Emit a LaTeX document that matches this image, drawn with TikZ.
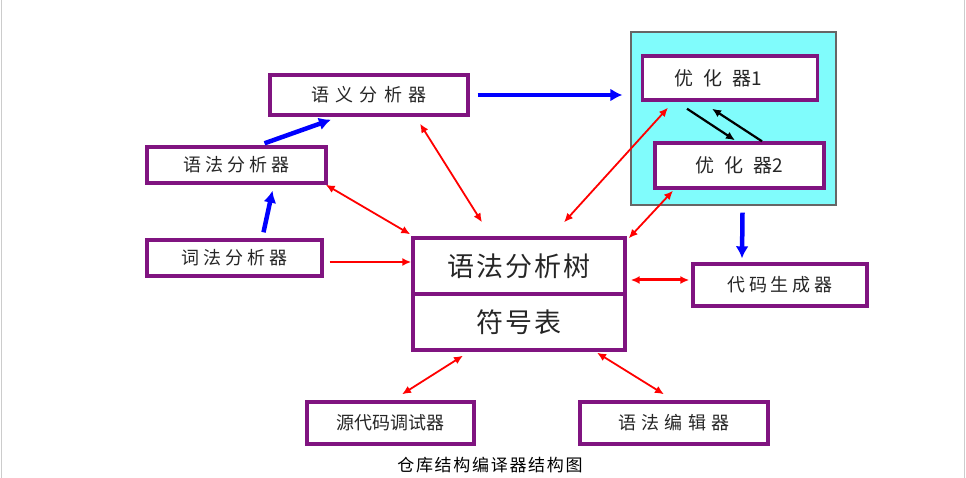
\documentclass[tikz,border=0pt]{standalone}
\usepackage{fontspec}
\newfontfamily\cjk{Noto Sans CJK SC}
\usetikzlibrary{arrows.meta}
\definecolor{boxpurple}{RGB}{128,20,128}
\definecolor{optcyan}{RGB}{128,252,252}
\newcommand{\boxfont}[2]{\cjk\fontsize{#1}{#1}\selectfont\addfontfeature{LetterSpace=#2}}
\tikzset{
  box/.style={draw=boxpurple,line width=3.4pt,fill=white,inner sep=0pt,
    font=\boxfont{18}{0},text=black!85},
  redarrow/.style={draw=red,line width=1.8pt,{Latex[length=9pt,width=8pt]}-{Latex[length=9pt,width=8pt]}},
  redsingle/.style={draw=red,line width=1.8pt,-{Latex[length=9pt,width=8pt]}},
  bluearrow/.style={draw=blue,line width=4.5pt,-{Latex[length=12pt,width=13pt]}},
  blackarrow/.style={draw=black,line width=2.2pt,-{Latex[length=9pt,width=8pt]}}
}
\begin{document}
\begin{tikzpicture}[x=1pt,y=-1pt]
\useasboundingbox (0,0) rectangle (966,478);
\draw [gray!40] (1,0) -- (1,478);
\draw [gray!40] (964,0) -- (964,478);
% optimiser area
\node (optarea) [draw=black!60,line width=1.2pt,fill=optcyan,minimum width=205pt,minimum height=173pt,inner sep=0pt] at (733.5,118.5) {};
\node (opt1) [box,minimum width=175pt,minimum height=44pt,font=\boxfont{19}{0}] at (730,78) {\hspace*{-24pt}优\hspace{10pt}化\hspace{10pt}器1};
\node (opt2) [box,minimum width=169pt,minimum height=45pt,font=\boxfont{19}{0}] at (739.5,165.5) {优\hspace{10pt}化\hspace{10pt}器2};
% analysers
\node (yuyi) [box,minimum width=198pt,minimum height=40pt,font=\boxfont{18}{35}] at (369,95) {语义分析器};
\node (yufa) [box,minimum width=179pt,minimum height=36pt,font=\boxfont{18}{22}] at (236.5,165) {语法分析器};
\node (cifa) [box,minimum width=175pt,minimum height=36pt,font=\boxfont{18}{22}] at (234.5,258) {词法分析器};
% central store
\node (tree) [box,minimum width=212pt,minimum height=56pt,font=\boxfont{27}{8}] at (519,266) {语法分析树};
\node (symtab) [box,minimum width=212pt,minimum height=56pt,font=\boxfont{27}{8}] at (519,322) {符号表};
% tools
\node (gen) [box,minimum width=174pt,minimum height=42pt,font=\boxfont{18}{20}] at (780,285) {代码生成器};
\node (debug) [box,minimum width=167pt,minimum height=42pt] at (390.5,423) {源代码调试器};
\node (editor) [box,minimum width=188pt,minimum height=42pt,font=\boxfont{18}{28}] at (674,423) {语法编辑器};
\node (caption) [font=\boxfont{17}{10}] at (490,465) {仓库结构编译器结构图};
% blue flow
\draw [bluearrow] ([xshift=28pt,yshift=2pt]yufa.north) -- ([xshift=-38pt,yshift=-3pt]yuyi.south);
\draw [bluearrow] ([xshift=29pt,yshift=6pt]cifa.north) -- ([xshift=36pt,yshift=-6pt]yufa.south);
\draw [bluearrow] ([xshift=8pt]yuyi.east) -- ([xshift=-8pt,yshift=23.5pt]optarea.west);
\draw [bluearrow] ([xshift=9pt,yshift=-7pt]optarea.south) -- ([xshift=-38pt,yshift=4pt]gen.north);
\draw [blackarrow] ([xshift=-43pt,yshift=-7pt]opt1.south) -- ([xshift=-4.5pt,yshift=1pt]opt2.north);
\draw [blackarrow] ([xshift=22.5pt]opt2.north) -- ([xshift=-18pt,yshift=-7pt]opt1.south);
% red links
\draw [redarrow] ([xshift=51pt,yshift=-7pt]yuyi.south) -- ([xshift=-37pt,yshift=14pt]tree.north);
\draw [redarrow] ([xshift=-2pt]yufa.south east) -- ([xshift=-1pt,yshift=2pt]tree.north west);
\draw [redsingle] ([xshift=6pt,yshift=-4pt]cifa.east) -- ([yshift=4pt]tree.west);
\draw [redarrow] ([xshift=45pt,yshift=14pt]tree.north) -- ([xshift=-62pt,yshift=-6pt]opt1.south);
\draw [redarrow] ([xshift=2pt,yshift=-2pt]tree.north east) -- ([xshift=-66.5pt,yshift=-1pt]opt2.south);
\draw [redarrow,line width=3pt] ([xshift=4pt,yshift=-14pt]tree.east) -- ([xshift=-2pt,yshift=5pt]gen.west);
\draw [redarrow] ([xshift=11.5pt,yshift=6pt]debug.north) -- ([xshift=-56pt,yshift=-4pt]symtab.south);
\draw [redarrow] ([xshift=-10pt,yshift=6pt]editor.north) -- ([xshift=78pt,yshift=-1pt]symtab.south);
\end{tikzpicture}
\end{document}
